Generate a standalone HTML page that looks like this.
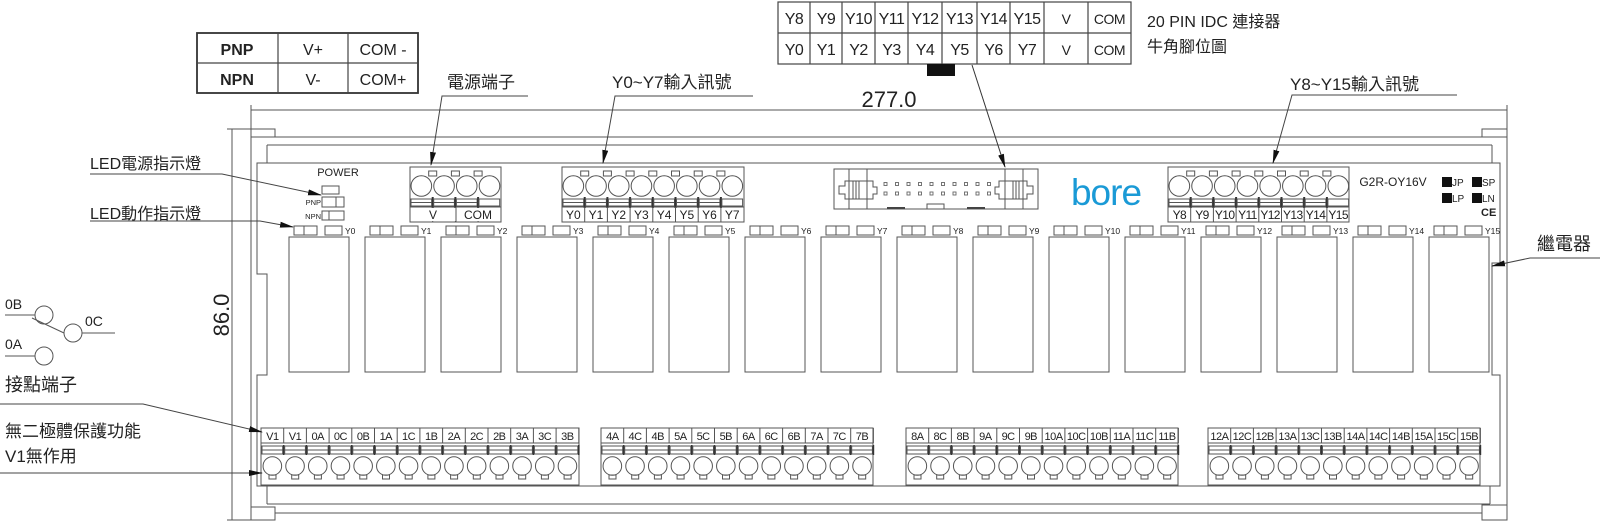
<!DOCTYPE html>
<html><head><meta charset="utf-8"><style>
html,body{margin:0;padding:0;background:#fff;}
svg{display:block;}
text{font-family:"Liberation Sans","Noto Sans CJK TC",sans-serif;fill:#222;}
.s{fill:none;stroke:#555;stroke-width:1;}
.t{fill:none;stroke:#444;stroke-width:1.2;}
</style></head><body>
<svg width="1600" height="521" viewBox="0 0 1600 521" xmlns="http://www.w3.org/2000/svg">
<defs>
<marker id="ar" markerWidth="14" markerHeight="6" refX="13" refY="3" orient="auto" markerUnits="userSpaceOnUse"><path d="M0,0 L14,3 L0,6 z" fill="#111"/></marker>
<g id="ru">
<rect class="s" x="0" y="237" width="60" height="135"/>
<rect class="s" x="5" y="226" width="23" height="9"/><line class="s" x1="15" y1="226" x2="15" y2="235"/>
<rect class="s" x="36" y="226" width="17" height="9"/>
</g>
<g id="tc">
<circle class="s" cx="11.35" cy="186" r="10.3"/>
<rect class="s" x="1" y="199" width="20.7" height="7"/><line class="s" x1="1" y1="202.5" x2="21.7" y2="202.5"/>
<line x1="22.7" y1="197" x2="22.7" y2="208" stroke="#333" stroke-width="2"/>
<line class="s" x1="22.7" y1="207" x2="22.7" y2="222"/>
<rect class="s" x="18.7" y="171" width="8" height="5"/>
</g>
<g id="bc">
<line class="s" x1="22.7" y1="428" x2="22.7" y2="443"/>
<rect class="s" x="1" y="446" width="20.7" height="8"/><line class="s" x1="1" y1="450" x2="21.7" y2="450"/>
<line x1="22.7" y1="445" x2="22.7" y2="455" stroke="#333" stroke-width="1.6"/>
<circle class="s" cx="11.35" cy="466" r="9.3"/>
<rect class="s" x="8" y="475" width="7" height="4"/>
</g>
</defs>

<!-- dimension lines -->
<line class="s" x1="251" y1="110" x2="1507" y2="110"/>
<line class="s" x1="251" y1="105" x2="251" y2="129"/>
<line class="s" x1="1507" y1="105" x2="1507" y2="520"/>
<text x="889" y="107" font-size="22" text-anchor="middle">277.0</text>
<line class="s" x1="232" y1="129" x2="232" y2="520"/>
<line class="s" x1="227" y1="129" x2="251" y2="129"/>
<line class="s" x1="227" y1="520" x2="251" y2="520"/>
<text x="0" y="0" font-size="22" text-anchor="middle" transform="translate(229,315) rotate(-90)">86.0</text>

<!-- rail/frame -->
<line class="s" x1="251" y1="129" x2="251" y2="520"/>
<rect class="s" x="251" y="129" width="24" height="8"/>
<rect class="s" x="1482" y="129" width="25" height="8"/>
<line class="s" x1="251" y1="137" x2="1507" y2="137"/>
<line class="s" x1="267" y1="145" x2="1492" y2="145"/>
<line class="s" x1="267" y1="145" x2="267" y2="163"/>
<line class="s" x1="1492" y1="145" x2="1492" y2="163"/>
<path class="s" d="M257,163 H1500 V263 H1492 V375 H1500 V486 H257 V375 H267 V274 H257 Z"/>
<line class="s" x1="267" y1="486" x2="267" y2="504"/>
<line class="s" x1="1490" y1="486" x2="1490" y2="504"/>
<line class="s" x1="267" y1="504" x2="1490" y2="504"/>
<line class="s" x1="275" y1="513" x2="1482" y2="513"/>
<rect class="s" x="251" y="507" width="24" height="13"/>
<rect class="s" x="1482" y="505" width="25" height="15"/>

<!-- power area -->
<text x="338" y="176" font-size="11" text-anchor="middle">POWER</text>
<rect class="s" x="322" y="186" width="17" height="8"/>
<rect class="s" x="322" y="197" width="22" height="10"/><line class="s" x1="336" y1="197" x2="336" y2="207"/>
<text x="321" y="205" font-size="7.5" text-anchor="end">PNP</text>
<rect class="s" x="322" y="211" width="22" height="9"/><line class="s" x1="329" y1="211" x2="329" y2="220"/>
<text x="321" y="219" font-size="7.5" text-anchor="end">NPN</text>

<!-- relays -->
<use href="#ru" x="289"/><use href="#ru" x="365"/><use href="#ru" x="441"/><use href="#ru" x="517"/>
<use href="#ru" x="593"/><use href="#ru" x="669"/><use href="#ru" x="745"/><use href="#ru" x="821"/>
<use href="#ru" x="897"/><use href="#ru" x="973"/><use href="#ru" x="1049"/><use href="#ru" x="1125"/>
<use href="#ru" x="1201"/><use href="#ru" x="1277"/><use href="#ru" x="1353"/><use href="#ru" x="1429"/>
<g font-size="8.5">
<text x="345" y="234">Y0</text><text x="421" y="234">Y1</text><text x="497" y="234">Y2</text><text x="573" y="234">Y3</text>
<text x="649" y="234">Y4</text><text x="725" y="234">Y5</text><text x="801" y="234">Y6</text><text x="877" y="234">Y7</text>
<text x="953" y="234">Y8</text><text x="1029" y="234">Y9</text><text x="1105" y="234">Y10</text><text x="1181" y="234">Y11</text>
<text x="1257" y="234">Y12</text><text x="1333" y="234">Y13</text><text x="1409" y="234">Y14</text><text x="1485" y="234">Y15</text>
</g>

<!-- V/COM block -->
<rect class="s" x="410" y="167" width="91" height="55"/>
<line class="s" x1="410" y1="207" x2="501" y2="207"/>
<use href="#tc" x="410"/><use href="#tc" x="432.7"/><use href="#tc" x="455.4"/>
<g><circle class="s" cx="489.5" cy="186" r="10.3"/><rect class="s" x="479" y="199" width="20.7" height="7"/></g>
<line x1="455.4" y1="207" x2="455.4" y2="222" stroke="#fff" stroke-width="0"/>
<rect x="420" y="208" width="70" height="13" fill="#fff"/>
<line class="s" x1="456" y1="207" x2="456" y2="222"/>
<text x="433" y="219" font-size="12" text-anchor="middle">V</text>
<text x="478" y="219" font-size="12" text-anchor="middle">COM</text>

<!-- Y0-Y7 block -->
<rect class="s" x="562" y="167" width="182" height="55"/>
<line class="s" x1="562" y1="207" x2="744" y2="207"/>
<use href="#tc" x="562"/><use href="#tc" x="584.7"/><use href="#tc" x="607.4"/><use href="#tc" x="630.1"/>
<use href="#tc" x="652.8"/><use href="#tc" x="675.5"/><use href="#tc" x="698.2"/>
<circle class="s" cx="732.3" cy="186" r="10.3"/><rect class="s" x="721.9" y="199" width="20.7" height="7"/>
<g font-size="12" text-anchor="middle">
<text x="573.4" y="219">Y0</text><text x="596" y="219">Y1</text><text x="618.7" y="219">Y2</text><text x="641.4" y="219">Y3</text>
<text x="664.1" y="219">Y4</text><text x="686.8" y="219">Y5</text><text x="709.5" y="219">Y6</text><text x="732.2" y="219">Y7</text>
</g>

<!-- Y8-Y15 block -->
<rect class="s" x="1168" y="167" width="181" height="55"/>
<line class="s" x1="1168" y1="207" x2="1349" y2="207"/>
<use href="#tc" x="1168"/><use href="#tc" x="1190.7"/><use href="#tc" x="1213.4"/><use href="#tc" x="1236.1"/>
<use href="#tc" x="1258.8"/><use href="#tc" x="1281.5"/><use href="#tc" x="1304.2"/>
<circle class="s" cx="1338.3" cy="186" r="10.3"/><rect class="s" x="1327.9" y="199" width="20.7" height="7"/>
<g font-size="12" text-anchor="middle" letter-spacing="-0.6">
<text x="1179.4" y="219">Y8</text><text x="1202" y="219">Y9</text><text x="1224.7" y="219">Y10</text><text x="1247.4" y="219">Y11</text>
<text x="1270.1" y="219">Y12</text><text x="1292.8" y="219">Y13</text><text x="1315.5" y="219">Y14</text><text x="1338.2" y="219">Y15</text>
</g>

<!-- IDC -->
<rect class="s" x="834" y="169" width="204" height="40"/>
<line class="s" x1="849" y1="169" x2="849" y2="209"/><line class="s" x1="867" y1="169" x2="867" y2="209"/>
<line class="s" x1="1005" y1="169" x2="1005" y2="209"/><line class="s" x1="1023" y1="169" x2="1023" y2="209"/>
<path class="s" d="M845,181 H873 V187 H877 V194 H873 V199 H845 V194 H839 V186 H845 Z"/>
<path class="s" d="M1027,181 H999 V187 H995 V194 H999 V199 H1027 V194 H1033 V186 H1027 Z"/>
<g class="s"><line x1="853" y1="181" x2="853" y2="199"/><line x1="856" y1="181" x2="856" y2="199"/><line x1="859" y1="181" x2="859" y2="199"/>
<line x1="1013" y1="181" x2="1013" y2="199"/><line x1="1016" y1="181" x2="1016" y2="199"/><line x1="1019" y1="181" x2="1019" y2="199"/></g>
<g fill="none" stroke="#666" stroke-width="0.9">
<rect x="884" y="182.5" width="3" height="3"/><rect x="895.5" y="182.5" width="3" height="3"/><rect x="907" y="182.5" width="3" height="3"/><rect x="918.5" y="182.5" width="3" height="3"/><rect x="930" y="182.5" width="3" height="3"/><rect x="941.5" y="182.5" width="3" height="3"/><rect x="953" y="182.5" width="3" height="3"/><rect x="964.5" y="182.5" width="3" height="3"/><rect x="976" y="182.5" width="3" height="3"/><rect x="987.5" y="182.5" width="3" height="3"/>
<rect x="884" y="192" width="3" height="3"/><rect x="895.5" y="192" width="3" height="3"/><rect x="907" y="192" width="3" height="3"/><rect x="918.5" y="192" width="3" height="3"/><rect x="930" y="192" width="3" height="3"/><rect x="941.5" y="192" width="3" height="3"/><rect x="953" y="192" width="3" height="3"/><rect x="964.5" y="192" width="3" height="3"/><rect x="976" y="192" width="3" height="3"/><rect x="987.5" y="192" width="3" height="3"/>
</g>
<rect class="s" x="927" y="204" width="17" height="5"/>
<line x1="887" y1="208" x2="905" y2="208" stroke="#444" stroke-width="2"/>
<line x1="967" y1="208" x2="985" y2="208" stroke="#444" stroke-width="2"/>

<text x="1106" y="205" font-size="37" text-anchor="middle" style="fill:#1a9ad6" letter-spacing="-1">bore</text>

<text x="1393" y="186" font-size="12" text-anchor="middle">G2R-OY16V</text>
<rect x="1442" y="177" width="10" height="10" fill="#111"/><text x="1452" y="186" font-size="10">JP</text>
<rect x="1472" y="177" width="10" height="10" fill="#111"/><text x="1482" y="186" font-size="10">SP</text>
<rect x="1442" y="193" width="10" height="10" fill="#111"/><text x="1452" y="202" font-size="10">LP</text>
<rect x="1472" y="193" width="10" height="10" fill="#111"/><text x="1482" y="202" font-size="10">LN</text>
<text x="1481" y="216" font-size="11" font-weight="bold">CE</text>

<!-- bottom terminal blocks -->
<rect class="s" x="261" y="428" width="318" height="57"/><line class="s" x1="261" y1="443" x2="579" y2="443"/>
<use href="#bc" x="261"/><use href="#bc" x="283.7"/><use href="#bc" x="306.4"/><use href="#bc" x="329.1"/><use href="#bc" x="351.8"/><use href="#bc" x="374.5"/><use href="#bc" x="397.2"/><use href="#bc" x="419.9"/><use href="#bc" x="442.6"/><use href="#bc" x="465.3"/><use href="#bc" x="488"/><use href="#bc" x="510.7"/><use href="#bc" x="533.4"/><use href="#bc" x="556.1"/>
<rect class="s" x="601" y="428" width="272" height="57"/><line class="s" x1="601" y1="443" x2="873" y2="443"/>
<use href="#bc" x="601"/><use href="#bc" x="623.7"/><use href="#bc" x="646.4"/><use href="#bc" x="669.1"/><use href="#bc" x="691.8"/><use href="#bc" x="714.5"/><use href="#bc" x="737.2"/><use href="#bc" x="759.9"/><use href="#bc" x="782.6"/><use href="#bc" x="805.3"/><use href="#bc" x="828"/><use href="#bc" x="850.7"/>
<rect class="s" x="906" y="428" width="272" height="57"/><line class="s" x1="906" y1="443" x2="1178" y2="443"/>
<use href="#bc" x="906"/><use href="#bc" x="928.7"/><use href="#bc" x="951.4"/><use href="#bc" x="974.1"/><use href="#bc" x="996.8"/><use href="#bc" x="1019.5"/><use href="#bc" x="1042.2"/><use href="#bc" x="1064.9"/><use href="#bc" x="1087.6"/><use href="#bc" x="1110.3"/><use href="#bc" x="1133"/><use href="#bc" x="1155.7"/>
<rect class="s" x="1208" y="428" width="272" height="57"/><line class="s" x1="1208" y1="443" x2="1480" y2="443"/>
<use href="#bc" x="1208"/><use href="#bc" x="1230.7"/><use href="#bc" x="1253.4"/><use href="#bc" x="1276.1"/><use href="#bc" x="1298.8"/><use href="#bc" x="1321.5"/><use href="#bc" x="1344.2"/><use href="#bc" x="1366.9"/><use href="#bc" x="1389.6"/><use href="#bc" x="1412.3"/><use href="#bc" x="1435"/><use href="#bc" x="1457.7"/>
<g font-size="11" text-anchor="middle" letter-spacing="-0.5">
<text x="272.4" y="440">V1</text><text x="295" y="440">V1</text><text x="317.7" y="440">0A</text><text x="340.4" y="440">0C</text><text x="363.1" y="440">0B</text><text x="385.8" y="440">1A</text><text x="408.5" y="440">1C</text><text x="431.2" y="440">1B</text><text x="453.9" y="440">2A</text><text x="476.6" y="440">2C</text><text x="499.3" y="440">2B</text><text x="522" y="440">3A</text><text x="544.7" y="440">3C</text><text x="567.4" y="440">3B</text>
<text x="612.4" y="440">4A</text><text x="635" y="440">4C</text><text x="657.7" y="440">4B</text><text x="680.4" y="440">5A</text><text x="703.1" y="440">5C</text><text x="725.8" y="440">5B</text><text x="748.5" y="440">6A</text><text x="771.2" y="440">6C</text><text x="793.9" y="440">6B</text><text x="816.6" y="440">7A</text><text x="839.3" y="440">7C</text><text x="862" y="440">7B</text>
<text x="917.4" y="440">8A</text><text x="940" y="440">8C</text><text x="962.7" y="440">8B</text><text x="985.4" y="440">9A</text><text x="1008.1" y="440">9C</text><text x="1030.8" y="440">9B</text><text x="1053.5" y="440">10A</text><text x="1076.2" y="440">10C</text><text x="1098.9" y="440">10B</text><text x="1121.6" y="440">11A</text><text x="1144.3" y="440">11C</text><text x="1167" y="440">11B</text>
<text x="1219.4" y="440">12A</text><text x="1242" y="440">12C</text><text x="1264.7" y="440">12B</text><text x="1287.4" y="440">13A</text><text x="1310.1" y="440">13C</text><text x="1332.8" y="440">13B</text><text x="1355.5" y="440">14A</text><text x="1378.2" y="440">14C</text><text x="1400.9" y="440">14B</text><text x="1423.6" y="440">15A</text><text x="1446.3" y="440">15C</text><text x="1469" y="440">15B</text>
</g>

<!-- PNP table -->
<rect x="197" y="33" width="221" height="60" fill="none" stroke="#333" stroke-width="1.8"/>
<line class="t" x1="197" y1="63" x2="418" y2="63"/>
<line class="t" x1="278" y1="33" x2="278" y2="93"/>
<line class="t" x1="348" y1="33" x2="348" y2="93"/>
<g font-size="16" text-anchor="middle">
<text x="237" y="55" font-weight="bold">PNP</text><text x="313" y="55">V+</text><text x="383" y="55">COM -</text>
<text x="237" y="85" font-weight="bold">NPN</text><text x="313" y="85">V-</text><text x="383" y="85">COM+</text>
</g>

<!-- top pin table -->
<rect class="t" x="778" y="2" width="353" height="62"/>
<line class="t" x1="778" y1="33" x2="1131" y2="33"/>
<g class="t"><line x1="810" y1="2" x2="810" y2="64"/><line x1="842" y1="2" x2="842" y2="64"/><line x1="875" y1="2" x2="875" y2="64"/><line x1="908" y1="2" x2="908" y2="64"/><line x1="942" y1="2" x2="942" y2="64"/><line x1="977" y1="2" x2="977" y2="64"/><line x1="1010" y1="2" x2="1010" y2="64"/><line x1="1044" y1="2" x2="1044" y2="64"/><line x1="1088" y1="2" x2="1088" y2="64"/></g>
<g font-size="16" text-anchor="middle" letter-spacing="-0.5">
<text x="794" y="24">Y8</text><text x="826" y="24">Y9</text><text x="858.5" y="24">Y10</text><text x="891.5" y="24">Y11</text><text x="925" y="24">Y12</text><text x="959.5" y="24">Y13</text><text x="993.5" y="24">Y14</text><text x="1027" y="24">Y15</text><text x="1066" y="24" font-size="14">V</text><text x="1109.5" y="24" font-size="14">COM</text>
<text x="794" y="55">Y0</text><text x="826" y="55">Y1</text><text x="858.5" y="55">Y2</text><text x="891.5" y="55">Y3</text><text x="925" y="55">Y4</text><text x="959.5" y="55">Y5</text><text x="993.5" y="55">Y6</text><text x="1027" y="55">Y7</text><text x="1066" y="55" font-size="14">V</text><text x="1109.5" y="55" font-size="14">COM</text>
</g>
<rect x="927" y="64" width="28" height="12" fill="#111"/>
<line x1="972" y1="65" x2="1005" y2="167" stroke="#333" stroke-width="1" marker-end="url(#ar)"/>
<text x="1147" y="27" font-size="16">20 PIN IDC 連接器</text>
<text x="1147" y="52" font-size="16">牛角腳位圖</text>

<!-- top labels -->
<text x="447" y="88" font-size="17">電源端子</text>
<polyline points="528,96 442,96 431,165" fill="none" stroke="#444" stroke-width="1" marker-end="url(#ar)"/>
<text x="612" y="88" font-size="17">Y0~Y7輸入訊號</text>
<polyline points="753,96 615,96 603,163" fill="none" stroke="#444" stroke-width="1" marker-end="url(#ar)"/>
<text x="1290" y="90" font-size="17">Y8~Y15輸入訊號</text>
<polyline points="1457,95 1292,95 1273,163" fill="none" stroke="#444" stroke-width="1" marker-end="url(#ar)"/>

<!-- left labels -->
<text x="90" y="169" font-size="16">LED電源指示燈</text>
<polyline points="90,174 222,174 321,195" fill="none" stroke="#444" stroke-width="1" marker-end="url(#ar)"/>
<text x="90" y="219" font-size="16">LED動作指示燈</text>
<polyline points="90,221 260,221 293,227" fill="none" stroke="#444" stroke-width="1" marker-end="url(#ar)"/>

<text x="1537" y="250" font-size="18">繼電器</text>
<polyline points="1600,258 1530,258 1492,266" fill="none" stroke="#444" stroke-width="1" marker-end="url(#ar)"/>

<!-- contact symbol -->
<text x="5" y="309" font-size="14">0B</text>
<line class="s" x1="5" y1="315" x2="35" y2="315"/>
<circle class="s" cx="44" cy="315" r="9"/>
<line class="s" x1="32" y1="318" x2="64" y2="333"/>
<circle class="s" cx="73" cy="333" r="9"/>
<line class="s" x1="82" y1="333" x2="115" y2="333"/>
<text x="85" y="326" font-size="14">0C</text>
<text x="5" y="349" font-size="14">0A</text>
<line class="s" x1="5" y1="356" x2="35" y2="356"/>
<circle class="s" cx="44" cy="356" r="9"/>

<text x="5" y="391" font-size="18">接點端子</text>
<polyline points="0,404 143,404 262,432" fill="none" stroke="#444" stroke-width="1" marker-end="url(#ar)"/>
<text x="5" y="437" font-size="17">無二極體保護功能</text>
<text x="5" y="462" font-size="17">V1無作用</text>
<line x1="0" y1="473" x2="262" y2="473" stroke="#444" stroke-width="1" marker-end="url(#ar)"/>
</svg>
</body></html>
